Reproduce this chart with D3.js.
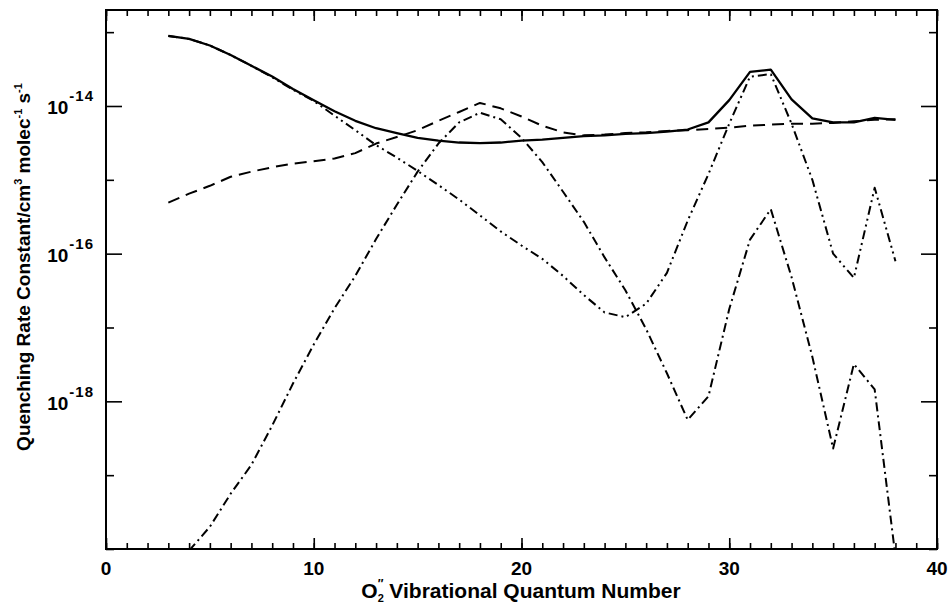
<!DOCTYPE html>
<html><head><meta charset="utf-8">
<script src="https://cdn.jsdelivr.net/npm/d3@7"></script>
<style>
html,body{margin:0;padding:0;background:#fff;}
svg{display:block;font-family:"Liberation Sans",Arial,sans-serif;font-weight:bold;}
</style></head>
<body>
<svg id="chart" width="950" height="603"></svg>
<script>
// ---- data ----
const quantumNumbers = [3,4,5,6,7,8,9,10,11,12,13,14,15,16,17,18,19,20,21,22,23,24,25,26,27,28,29,30,31,32,33,34,35,36,37,38];
const totalRate = [8.9e-14,8.1e-14,6.6e-14,4.9e-14,3.5e-14,2.5e-14,1.7e-14,1.2e-14,8.5e-15,6.3e-15,5.0e-15,4.3e-15,3.7e-15,3.4e-15,3.2e-15,3.15e-15,3.2e-15,3.4e-15,3.5e-15,3.7e-15,3.9e-15,4.0e-15,4.2e-15,4.3e-15,4.5e-15,4.8e-15,6.0e-15,1.2e-14,2.9e-14,3.1e-14,1.23e-14,6.8e-15,6.0e-15,6.0e-15,6.9e-15,6.5e-15];
const dashedRate = [4.9e-16,6.5e-16,8.3e-16,1.1e-15,1.29e-15,1.48e-15,1.66e-15,1.78e-15,1.95e-15,2.3e-15,3.1e-15,3.8e-15,4.7e-15,6.3e-15,8.3e-15,1.1e-14,9.3e-15,7.2e-15,5.4e-15,4.4e-15,4.0e-15,4.1e-15,4.3e-15,4.4e-15,4.6e-15,4.7e-15,4.9e-15,5.1e-15,5.4e-15,5.6e-15,5.75e-15,5.75e-15,5.9e-15,6.2e-15,6.5e-15,6.6e-15];
const dashDotDotRate = [8.9e-14,8.1e-14,6.6e-14,4.9e-14,3.5e-14,2.45e-14,1.66e-14,1.17e-14,7.4e-15,4.7e-15,2.95e-15,2.0e-15,1.32e-15,8.5e-16,5.4e-16,3.3e-16,2.0e-16,1.29e-16,8.5e-17,5.0e-17,2.75e-17,1.6e-17,1.38e-17,2.1e-17,5.5e-17,2.8e-16,1.2e-15,5.75e-15,2.5e-14,2.7e-14,5.75e-15,1.0e-15,1.0e-16,4.7e-17,7.8e-16,7.9e-17];
const dashDotX = [4,5,6,7,8,9,10,11,12,13,14,15,16,17,18,19,20,21,22,23,24,25,26,27,28,29,30,31,32,33,34,35,36,37,38];
const dashDotRate = [9.5e-21,2.0e-20,5.6e-20,1.38e-19,4.7e-19,1.74e-18,5.9e-18,1.82e-17,5.0e-17,1.58e-16,4.6e-16,1.29e-15,3.1e-15,6.0e-15,8.1e-15,6.6e-15,3.7e-15,1.74e-15,6.9e-16,2.7e-16,8.9e-17,3.2e-17,9.5e-18,2.4e-18,5.6e-19,1.17e-18,1.78e-17,1.55e-16,4.0e-16,4.8e-17,4.0e-18,2.3e-19,3.2e-18,1.45e-18,7.9e-21];
const xTicks = [0,10,20,30,40];
const yMajorExps = [-14,-16,-18];
const xTitle = "Vibrational Quantum Number";
const yTitle = "Quenching Rate Constant/cm";

// ---- layout ----
const L = 106, R = 937, T = 10, B = 549;
const svg = d3.select("#chart");
const x = d3.scaleLinear().domain([0,40]).range([L,R]);
const y = d3.scaleLog().domain([1e-20, Math.pow(10,-12.7)]).range([B,T]);

svg.append("defs").append("clipPath").attr("id","clip")
  .append("rect").attr("x",L).attr("y",T).attr("width",R-L).attr("height",B-T);

const minorX = d3.range(0,41,1);
const decades = d3.range(-20,-12,1).map(e=>Math.pow(10,e));
const majorY = yMajorExps.map(e=>Math.pow(10,e));
const minorY = decades.filter(v=>!majorY.some(m=>Math.abs(Math.log10(m)-Math.log10(v))<1e-6));

function styleAxis(g){
  g.select(".domain").remove();
  g.selectAll("line").attr("stroke","#000").attr("stroke-width",1.6);
  g.selectAll("text").remove();
}
svg.append("g").attr("transform",`translate(0,${B})`).call(d3.axisBottom(x).tickValues(minorX).tickSize(-6).tickFormat("")).call(styleAxis);
svg.append("g").attr("transform",`translate(0,${B})`).call(d3.axisBottom(x).tickValues(xTicks).tickSize(-11).tickFormat("")).call(styleAxis);
svg.append("g").attr("transform",`translate(0,${T})`).call(d3.axisTop(x).tickValues(minorX).tickSize(-6).tickFormat("")).call(styleAxis);
svg.append("g").attr("transform",`translate(0,${T})`).call(d3.axisTop(x).tickValues(xTicks).tickSize(-11).tickFormat("")).call(styleAxis);
svg.append("g").attr("transform",`translate(${L},0)`).call(d3.axisLeft(y).tickValues(minorY).tickSize(-8).tickFormat("")).call(styleAxis);
svg.append("g").attr("transform",`translate(${L},0)`).call(d3.axisLeft(y).tickValues(majorY).tickSize(-16).tickFormat("")).call(styleAxis);
svg.append("g").attr("transform",`translate(${R},0)`).call(d3.axisRight(y).tickValues(minorY).tickSize(-8).tickFormat("")).call(styleAxis);
svg.append("g").attr("transform",`translate(${R},0)`).call(d3.axisRight(y).tickValues(majorY).tickSize(-16).tickFormat("")).call(styleAxis);

svg.append("rect").attr("x",L).attr("y",T).attr("width",R-L).attr("height",B-T)
  .attr("fill","none").attr("stroke","#000").attr("stroke-width",2);

// x tick labels
svg.append("g").selectAll("text").data(xTicks).join("text")
  .attr("x",d=>x(d)).attr("y",B+26).attr("text-anchor","middle")
  .attr("font-size",19).text(d=>d);

// y tick labels
const yl = svg.append("g").selectAll("text").data(yMajorExps).join("text")
  .attr("x",L-12).attr("y",d=>y(Math.pow(10,d))+8.5).attr("text-anchor","end")
  .attr("font-size",19);
yl.append("tspan").text("10");
yl.append("tspan").attr("dy",-13).attr("dx",1).attr("font-size",15).attr("letter-spacing",1).text(d=>"-"+Math.abs(d));

// x title
const xt = svg.append("text").attr("x",521).attr("y",598).attr("text-anchor","middle").attr("font-size",21);
xt.append("tspan").text("O");
xt.append("tspan").attr("dy",4).attr("font-size",11).text("2");
xt.append("tspan").attr("dy",-14).attr("dx",-6).attr("font-size",12).text("\u2033");
xt.append("tspan").attr("dy",10).text(" " + xTitle);

// y title
const yt = svg.append("text").attr("transform",`translate(30,267) rotate(-90)`).attr("text-anchor","middle").attr("font-size",19);
yt.append("tspan").text(yTitle);
yt.append("tspan").attr("dy",-8).attr("font-size",11).text("3");
yt.append("tspan").attr("dy",8).text(" molec");
yt.append("tspan").attr("dy",-8).attr("font-size",11).text("-1");
yt.append("tspan").attr("dy",8).text(" s");
yt.append("tspan").attr("dy",-8).attr("font-size",11).text("-1");

// curves
const line = d3.line().x(d=>x(d[0])).y(d=>y(d[1]));
const plot = svg.append("g").attr("clip-path","url(#clip)");
function draw(xs, ys, dash, w){
  plot.append("path").datum(xs.map((v,i)=>[v,ys[i]]))
    .attr("d",line).attr("fill","none").attr("stroke","#000")
    .attr("stroke-width",w).attr("stroke-dasharray",dash)
    .attr("stroke-linejoin","round");
}
draw(quantumNumbers, dashDotDotRate, "9,4,2,4,2,4", 2);
draw(dashDotX, dashDotRate, "9,4,2,4", 2);
draw(quantumNumbers, dashedRate, "12,7", 2);
draw(quantumNumbers, totalRate, null, 2.3);
</script>
</body></html>
